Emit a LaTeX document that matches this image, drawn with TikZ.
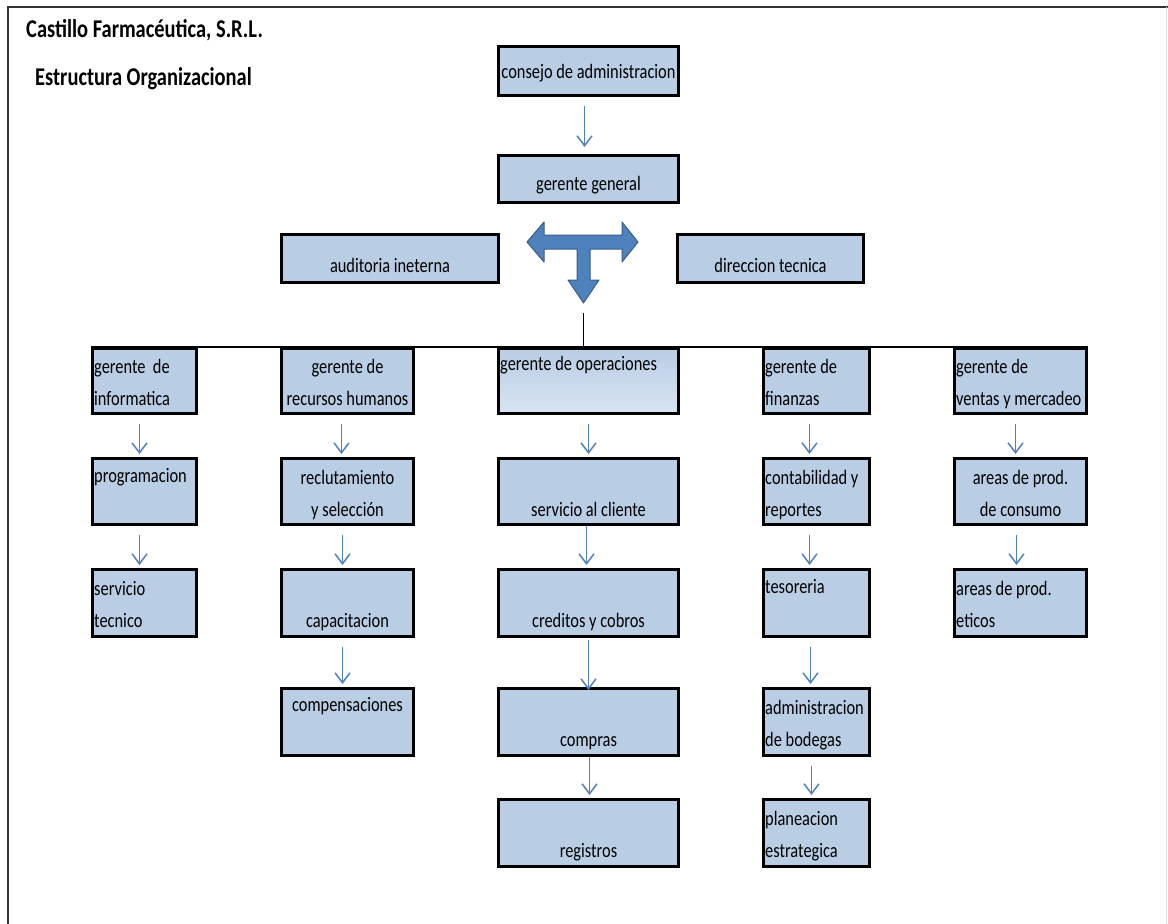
\documentclass[tikz,border=0pt]{standalone}
\usepackage{fontspec}
\setmainfont{Carlito}[FakeStretch=0.8]
\usetikzlibrary{arrows.meta}

\definecolor{boxblue}{RGB}{185,205,229}
\definecolor{boxlight}{RGB}{216,228,242}
\definecolor{arrowblue}{RGB}{79,129,189}
\definecolor{arrowedge}{RGB}{56,93,138}

\tikzset{
  box/.style={draw=black, line width=3pt, fill=boxblue, anchor=north west, inner sep=0pt},
  opbox/.style={box, top color=boxblue, bottom color=boxlight},
  lbl/.style={font=\fontsize{20.5}{32}\selectfont, text=black, inner sep=0pt, align=left, execute at begin node=\strut},
  clbl/.style={lbl, align=center, anchor=north},
  llbl/.style={lbl, anchor=north west},
  title/.style={font=\fontsize{25.6}{30}\selectfont\bfseries, inner sep=0pt, anchor=base west},
  arr/.style={draw=arrowblue, line width=1.5pt, -{Straight Barb[length=10pt,width=15pt]}, shorten <=9pt, shorten >=3pt}
}

\begin{document}
\begin{tikzpicture}[x=1pt,y=-1pt]
  \useasboundingbox (0,0) rectangle (1168,924);
  \draw[line width=2pt, black!80] (8,924) -- (8,7) -- (1168,7);
  \draw[black!12] (1166,7) -- (1166,924);

  \node[title] (firma) at (26,37) {Castillo Farmacéutica, S.R.L.};
  \node[title] (estructura) at (35,85) {Estructura Organizacional};

  % direccion
  \node[box, minimum width=180pt, minimum height=49pt] (consejo) at (497,45) {};
  \node[box, minimum width=180pt, minimum height=47pt] (gg) at (497,154) {};
  \node[box, minimum width=217pt, minimum height=48pt] (audit) at (280,233) {};
  \node[box, minimum width=186pt, minimum height=48pt] (dir) at (676,233) {};

  % gerencias
  \node[box, minimum width=104pt, minimum height=65pt] (info) at (91,347) {};
  \node[box, minimum width=132pt, minimum height=65pt] (rh) at (280,347) {};
  \node[opbox, minimum width=180pt, minimum height=65pt] (ops) at (497,347) {};
  \node[box, minimum width=106pt, minimum height=65pt] (fin) at (762,347) {};
  \node[box, minimum width=132pt, minimum height=65pt] (ven) at (953,347) {};

  \node[box, minimum width=104pt, minimum height=66pt] (prog) at (91,457) {};
  \node[box, minimum width=132pt, minimum height=66pt] (recl) at (280,457) {};
  \node[box, minimum width=180pt, minimum height=66pt] (serv) at (497,457) {};
  \node[box, minimum width=106pt, minimum height=66pt] (cont) at (762,457) {};
  \node[box, minimum width=132pt, minimum height=66pt] (cons) at (953,457) {};

  \node[box, minimum width=104pt, minimum height=67pt] (stec) at (91,568) {};
  \node[box, minimum width=132pt, minimum height=67pt] (capa) at (280,568) {};
  \node[box, minimum width=180pt, minimum height=67pt] (cred) at (497,568) {};
  \node[box, minimum width=106pt, minimum height=67pt] (teso) at (762,568) {};
  \node[box, minimum width=132pt, minimum height=67pt] (etic) at (953,568) {};

  \node[box, minimum width=132pt, minimum height=67pt] (comp) at (280,687) {};
  \node[box, minimum width=180pt, minimum height=67pt] (compr) at (497,687) {};
  \node[box, minimum width=106pt, minimum height=67pt] (bod) at (762,687) {};

  \node[box, minimum width=180pt, minimum height=67pt] (reg) at (497,798) {};
  \node[box, minimum width=106pt, minimum height=67pt] (plan) at (762,798) {};

  % textos
  \node[clbl] (consejo-t) at ([yshift=-10.6pt]consejo.north) {consejo de administracion};
  \node[clbl] (gg-t) at ([yshift=-13.6pt]gg.north) {gerente general};
  \node[clbl] (audit-t) at ([yshift=-16.6pt]audit.north) {auditoria ineterna};
  \node[clbl] (dir-t) at ([yshift=-16.6pt]dir.north) {direccion tecnica};

  \node[llbl] (info-t) at ([xshift=3pt,yshift=-12pt]info.north west) {gerente~ de\\informatica};
  \node[clbl] (rh-t) at ([yshift=-12pt]rh.north) {gerente de\\recursos humanos};
  \node[llbl] (ops-t) at ([xshift=3pt,yshift=-1pt]ops.north west) {gerente de operaciones};
  \node[llbl] (fin-t) at ([xshift=3pt,yshift=-12pt]fin.north west) {gerente de\\finanzas};
  \node[llbl] (ven-t) at ([xshift=3pt,yshift=-12pt]ven.north west) {gerente de\\ventas y mercadeo};

  \node[llbl] (prog-t) at ([xshift=3pt,yshift=-2.5pt]prog.north west) {programacion};
  \node[clbl] (recl-t) at ([yshift=-13.5pt]recl.north) {reclutamiento\\y selección};
  \node[clbl] (serv-t) at ([yshift=-36.6pt]serv.north) {servicio al cliente};
  \node[llbl] (cont-t) at ([xshift=3pt,yshift=-13.5pt]cont.north west) {contabilidad y\\reportes};
  \node[clbl] (cons-t) at ([yshift=-13.5pt]cons.north) {areas de prod.\\de consumo};

  \node[llbl] (stec-t) at ([xshift=3pt,yshift=-13.5pt]stec.north west) {servicio\\tecnico};
  \node[clbl] (capa-t) at ([yshift=-36.6pt]capa.north) {capacitacion};
  \node[clbl] (cred-t) at ([yshift=-36.6pt]cred.north) {creditos y cobros};
  \node[llbl] (teso-t) at ([xshift=3pt,yshift=-2.5pt]teso.north west) {tesoreria};
  \node[llbl] (etic-t) at ([xshift=3pt,yshift=-13.5pt]etic.north west) {areas de prod.\\eticos};

  \node[clbl] (comp-t) at ([yshift=-2pt]comp.north) {compensaciones};
  \node[clbl] (compr-t) at ([yshift=-36.6pt]compr.north) {compras};
  \node[llbl] (bod-t) at ([xshift=3pt,yshift=-13pt]bod.north west) {administracion\\de bodegas};

  \node[clbl] (reg-t) at ([yshift=-36.6pt]reg.north) {registros};
  \node[llbl] (plan-t) at ([xshift=3pt,yshift=-13.5pt]plan.north west) {planeacion\\estrategica};

  % flecha en T
  \filldraw[fill=arrowblue, draw=arrowedge, line width=1pt, line join=round]
    (527,242) -- (544,222) -- (544,235) -- (622,235) -- (622,222) -- (638,242)
    -- (622,262) -- (622,249) -- (590,249) -- (590,280) -- (599,280) -- (583.5,303)
    -- (568,280) -- (577,280) -- (577,249) -- (544,249) -- (544,262) -- cycle;

  % lineas
  \coordinate (stub) at (583.5,313);
  \draw[line width=1.8pt] (stub) -- (stub |- ops.north);
  \draw[line width=2.5pt] (info.north west) -- (ven.north east);

  \draw[arr, shorten >=7pt] ([xshift=-4pt]consejo.south) -- ([xshift=-4pt]gg.north);

  \draw[arr] ([xshift=-5pt]info.south) -- ([xshift=-5pt]prog.north);
  \draw[arr] ([xshift=-5pt]prog.south) -- ([xshift=-5pt]stec.north);

  \draw[arr] ([xshift=-6pt]rh.south) -- ([xshift=-6pt]recl.north);
  \draw[arr] ([xshift=-5pt]recl.south) -- ([xshift=-5pt]capa.north);
  \draw[arr] ([xshift=-5pt]capa.south) -- ([xshift=-5pt]comp.north);

  \draw[arr] (ops.south) -- (serv.north);
  \draw[arr, shorten <=0pt] ([xshift=-2pt]serv.south) -- ([xshift=-2pt]cred.north);
  \draw[arr, shorten <=2pt, shorten >=-3pt] (cred.south) -- (compr.north);
  \draw[arr, shorten <=0pt] ([xshift=1pt]compr.south) -- ([xshift=1pt]reg.north);

  \draw[arr] ([xshift=-7pt]fin.south) -- ([xshift=-7pt]cont.north);
  \draw[arr] ([xshift=-7pt]cont.south) -- ([xshift=-7pt]teso.north);
  \draw[arr] ([xshift=-6pt]teso.south) -- ([xshift=-6pt]bod.north);
  \draw[arr] ([xshift=-5pt]bod.south) -- ([xshift=-5pt]plan.north);

  \draw[arr] ([xshift=-5pt]ven.south) -- ([xshift=-5pt]cons.north);
  \draw[arr] ([xshift=-4pt]cons.south) -- ([xshift=-4pt]etic.north);
\end{tikzpicture}
\end{document}
